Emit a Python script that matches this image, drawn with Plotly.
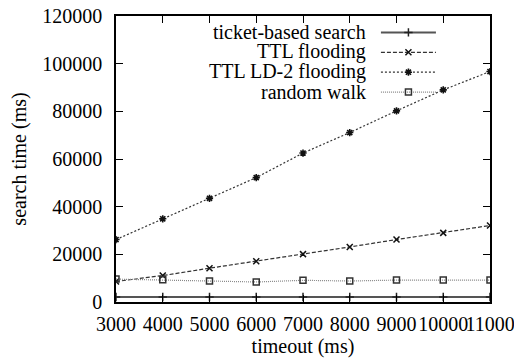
import plotly.graph_objects as go

timeout = [3000, 4000, 5000, 6000, 7000, 8000, 9000, 10000, 11000]
ticket_based = [2100, 2100, 2100, 2100, 2100, 2100, 2100, 2100, 2100]
ttl_flooding = [8600, 11100, 14200, 17100, 20100, 23100, 26200, 29000, 32100]
ttl_ld2 = [26200, 34900, 43500, 52200, 62500, 71100, 80200, 89000, 96700]
random_walk = [9600, 9300, 8800, 8400, 9100, 8800, 9200, 9200, 9200]
names = ["ticket-based search", "TTL flooding", "TTL LD-2 flooding", "random walk"]

FONT = "Liberation Serif, Times New Roman, serif"

fig = go.Figure()
fig.add_trace(go.Scatter(x=timeout, y=ticket_based, mode="lines+markers", name=" ",
                         line=dict(color="#555555", width=2, dash="solid"),
                         marker=dict(symbol="cross-thin-open", size=6, color="#222222",
                                     line=dict(width=1.5, color="#222222"))))
fig.add_trace(go.Scatter(x=timeout, y=ttl_flooding, mode="lines+markers", name="  ",
                         line=dict(color="#333333", width=1.2, dash="4px,2px"),
                         marker=dict(symbol="x-thin-open", size=6, color="#111111",
                                     line=dict(width=1.5, color="#111111"))))
fig.add_trace(go.Scatter(x=timeout, y=ttl_ld2, mode="lines+markers", name="   ",
                         line=dict(color="#333333", width=1.2, dash="2px,2px"),
                         marker=dict(symbol="asterisk-open", size=6, color="#111111",
                                     line=dict(width=1.6, color="#111111"))))
fig.add_trace(go.Scatter(x=timeout, y=random_walk, mode="lines+markers", name="    ",
                         line=dict(color="#888888", width=1.2, dash="1px,1px"),
                         marker=dict(symbol="square-open", size=6, color="#333333",
                                     line=dict(width=1.5, color="#333333"))))

# legend labels to the left of the samples (gnuplot style)
for i, n in enumerate(names):
    fig.add_annotation(text=n, xref="paper", yref="paper", x=0.674, y=0.945 - i * 0.0697,
                       xanchor="right", yanchor="middle", showarrow=False,
                       font=dict(family=FONT, size=20, color="black"))

# the page body adds an 8px offset, so the figure is 8px smaller and margins shifted
fig.update_layout(
    width=514, height=355,
    margin=dict(l=108, r=32, t=8, b=61, autoexpand=False),
    paper_bgcolor="white", plot_bgcolor="white",
    font=dict(family=FONT, size=20, color="black"),
    showlegend=True,
    legend=dict(x=0.695, y=0.995, xanchor="left", yanchor="top",
                bgcolor="rgba(0,0,0,0)", font=dict(size=13, family=FONT),
                itemwidth=55, tracegroupgap=0),
)
fig.update_xaxes(range=[3000, 11000], tickvals=timeout, ticktext=[str(v) for v in timeout],
                 tickangle=0, showgrid=False, zeroline=False, automargin=False,
                 showline=True, linecolor="black", linewidth=1.5, mirror="ticks",
                 ticks="inside", ticklen=7, tickwidth=1.2, tickcolor="black",
                 ticklabelstandoff=3, ticklabeloverflow="allow",
                 title=dict(text="timeout (ms)", font=dict(size=20), standoff=4),
                 tickfont=dict(size=20))
fig.update_yaxes(range=[0, 120000], dtick=20000, tickformat="d",
                 showgrid=False, zeroline=False, automargin=False,
                 showline=True, linecolor="black", linewidth=1.5, mirror="ticks",
                 ticks="inside", ticklen=7, tickwidth=1.2, tickcolor="black",
                 ticklabelstandoff=8, ticklabeloverflow="allow",
                 title=dict(text="search time (ms)", font=dict(size=20), standoff=14),
                 tickfont=dict(size=20))

fig.write_html("out.html")
